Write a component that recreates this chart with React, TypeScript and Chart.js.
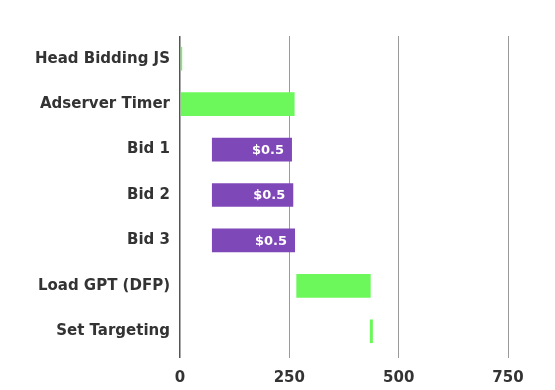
import React, { useEffect, useRef } from "react";
import { Chart, registerables } from "chart.js";

Chart.register(...registerables);

const categories = [
  "Head Bidding JS",
  "Adserver Timer",
  "Bid 1",
  "Bid 2",
  "Bid 3",
  "Load GPT (DFP)",
  "Set Targeting",
];
const startValues = [0, 0, 73, 73, 73, 266, 434];
const endValues = [5, 262, 256, 259, 263, 436, 441];
const kinds = ["step", "step", "bid", "bid", "bid", "step", "step"];
const valueLabels = ["", "", "$0.5", "$0.5", "$0.5", "", ""];
const xTicks = [0, 250, 500, 750];

const GREEN = "#6cf85a";
const PURPLE = "#7f48b8";
const FONT = "'DejaVu Sans', 'Open Sans', sans-serif";

const labelPlugin = {
  id: "barValueLabels",
  afterDatasetsDraw(chart: any) {
    const ctx = chart.ctx;
    const meta = chart.getDatasetMeta(0);
    ctx.save();
    ctx.fillStyle = "#ffffff";
    ctx.font = `700 13px ${FONT}`;
    ctx.textAlign = "right";
    ctx.textBaseline = "middle";
    meta.data.forEach((el: any, i: number) => {
      const t = valueLabels[i];
      if (!t) return;
      const right = Math.max(el.x, el.base);
      ctx.fillText(t, right - 8, el.y + 1);
    });
    ctx.restore();
  },
};

export default function App() {
  const ref = useRef<HTMLCanvasElement>(null);
  useEffect(() => {
    if (!ref.current) return;
    const chart = new Chart(ref.current, {
      type: "bar",
      data: {
        labels: categories,
        datasets: [
          {
            data: categories.map((_, i) => [startValues[i], endValues[i]]),
            backgroundColor: kinds.map((k) => (k === "bid" ? PURPLE : GREEN)),
            borderWidth: 0,
            barPercentage: 0.52,
            categoryPercentage: 1,
          },
        ],
      },
      options: {
        indexAxis: "y",
        animation: false,
        responsive: false,
        maintainAspectRatio: false,
        layout: { padding: { top: 36, right: 47, bottom: 0, left: 0 } },
        plugins: {
          legend: { display: false },
          tooltip: { enabled: false },
        },
        scales: {
          x: {
            min: 0,
            max: 750,
            afterBuildTicks: (scale: any) => {
              scale.ticks = xTicks.map((v) => ({ value: v }));
            },
            afterFit: (scale: any) => {
              scale.height = 36;
            },
            grid: {
              color: (c: any) => (c.tick && c.tick.value === 0 ? "#555555" : "#9a9a9a"),
              lineWidth: (c: any) => (c.tick && c.tick.value === 0 ? 1.5 : 1),
              drawTicks: true,
              tickLength: 4,
            },
            border: { display: false },
            ticks: {
              padding: 11,
              color: "#333333",
              font: { family: FONT, size: 15, weight: "bold" },
            },
          },
          y: {
            afterFit: (scale: any) => {
              scale.width = 180;
            },
            grid: { display: false, drawTicks: false },
            border: { display: false },
            ticks: {
              padding: 10,
              color: "#333333",
              font: { family: FONT, size: 15, weight: "bold" },
            },
          },
        },
      },
      plugins: [labelPlugin],
    });
    return () => chart.destroy();
  }, []);
  return (
    <div style={{ position: "absolute", left: 0, top: 0, width: 555, height: 390, background: "#fff" }}>
      <canvas ref={ref} width={555} height={390} style={{ width: 555, height: 390 }} />
    </div>
  );
}
